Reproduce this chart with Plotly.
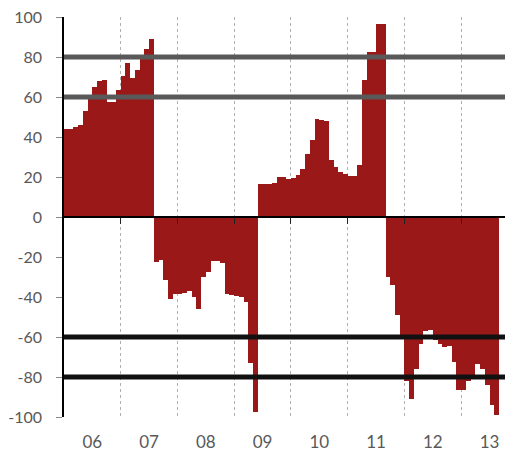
import plotly.graph_objects as go

# Monthly values, Jan 2006 - Aug 2013
v2006 = [43.8, 43.8, 44.8, 45.8, 53, 60, 65, 67.8, 68.5, 57.5, 57.5, 63.5]
v2007 = [70.7, 77.2, 69.7, 73.7, 80, 83.8, 89.2, -22.7, -21.5, -31.3, -41.2, -38.3]
v2008 = [-38.5, -37.8, -36.8, -39.8, -46, -30.2, -27.7, -21.8, -21.8, -23.2, -38.7, -39.2]
v2009 = [-39.7, -40, -42.7, -73.2, -97.5, 16.3, 16.3, 16.7, 17.2, 19.8, 19.8, 18.8]
v2010 = [19.7, 20.8, 24, 31.5, 38.5, 49, 48.5, 47.8, 28.3, 25, 22.3, 21.3]
v2011 = [20.5, 20.7, 26, 68.3, 82.3, 82.3, 96.3, 96.5, -30, -33.8, -48.8, -60]
v2012 = [-82.2, -90.8, -76, -63.5, -56.8, -56.3, -61.3, -63.5, -65, -64.7, -72.3, -86.3]
v2013 = [-86.3, -82.2, -79, -73.3, -76, -84.2, -94.2, -99.2]

year_labels = ["06", "07", "08", "09", "10", "11", "12", "13"]
upper_levels = [60, 80]
lower_levels = [-60, -80]
y_ticks = [-100, -80, -60, -40, -20, 0, 20, 40, 60, 80, 100]
y_tick_labels = ["-100", "-80", "-60", "-40", "-20", "0", "20", "40", "60", "80", "100"]

values = v2006 + v2007 + v2008 + v2009 + v2010 + v2011 + v2012 + v2013
month_index = list(range(len(values)))

year_centers = [12 * k + 5.5 for k in range(len(year_labels))]
year_bounds = [12 * k - 0.5 for k in range(1, len(year_labels))]

BAR = "#9b1818"
GREY = "#595959"
FONT = "Lato"
xrange = [-0.5, 94.46]

fig = go.Figure()
fig.add_trace(go.Bar(
    x=month_index, y=values, width=1.0,
    marker=dict(color=BAR, line=dict(width=0)),
    showlegend=False, hoverinfo="skip",
))
# helper trace to host the zero-line axis
fig.add_trace(go.Scatter(x=[None], y=[None], xaxis="x2", yaxis="y",
                         showlegend=False, hoverinfo="skip"))

shapes = []
for lv in upper_levels:
    shapes.append(dict(type="line", xref="paper", yref="y", x0=0, x1=1, y0=lv, y1=lv,
                       line=dict(color=GREY, width=5), layer="above"))
for lv in lower_levels:
    shapes.append(dict(type="line", xref="paper", yref="y", x0=0, x1=1, y0=lv, y1=lv,
                       line=dict(color="#111111", width=5), layer="above"))

fig.update_layout(
    width=505, height=444,
    margin=dict(l=56, r=0, t=9, b=35),
    paper_bgcolor="white", plot_bgcolor="white",
    bargap=0,
    shapes=shapes,
    xaxis=dict(
        range=xrange, showline=False, zeroline=False, showgrid=False, automargin=False,
        tickmode="array", tickvals=year_centers, ticktext=year_labels,
        ticks="", ticklabelstandoff=13, ticklabeloverflow="allow",
        tickfont=dict(family=FONT, size=17, color=GREY),
        minor=dict(tickmode="array", tickvals=year_bounds, showgrid=True,
                   griddash="dot", gridcolor="#b0b0b0", gridwidth=1, ticks=""),
    ),
    xaxis2=dict(
        overlaying="x", matches="x", anchor="free", position=0.5, side="bottom",
        range=xrange, showline=True, linecolor="black", linewidth=1.5,
        zeroline=False, showgrid=False, automargin=False,
        tickmode="array", tickvals=year_bounds, ticks="outside", ticklen=6,
        tickcolor="#222222", tickwidth=1, showticklabels=False,
    ),
    yaxis=dict(
        range=[-100, 100], showline=True, linecolor="black", linewidth=1.5,
        zeroline=False, showgrid=False, automargin=False,
        tickmode="array", tickvals=y_ticks, ticktext=y_tick_labels,
        ticks="outside", ticklen=6, ticklabeloverflow="allow",
        tickcolor="#888888", ticklabelstandoff=11,
        tickfont=dict(family=FONT, size=16, color=GREY),
    ),
)

fig.write_html("out.html")
